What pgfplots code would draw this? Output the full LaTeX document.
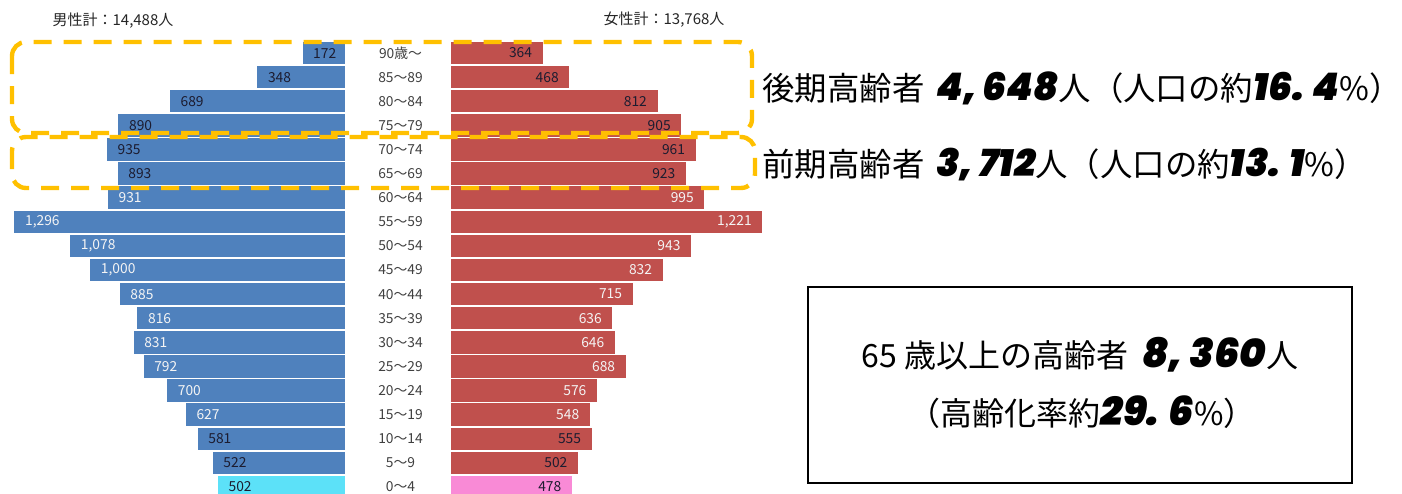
\documentclass[border=0pt]{standalone}
\usepackage{pgfplots}
\pgfplotsset{compat=1.18}
\usepackage{pgfplotstable}
\usepackage{fontspec}
\setmainfont{Noto Sans CJK JP}
\newfontfamily\numfont{Poppins}[BoldItalicFont={Poppins Black Italic}, Numbers=Monospaced]
\definecolor{mblue}{HTML}{4F81BD}
\definecolor{fred}{HTML}{C0504D}
\definecolor{mcyan}{HTML}{5CE1F8}
\definecolor{fpink}{HTML}{F98AD6}
\definecolor{dashor}{HTML}{FFC000}
\definecolor{lbldark}{HTML}{1C1C30}
\definecolor{lblwhite}{HTML}{F4F4F4}
\definecolor{agegray}{HTML}{404040}
\newcommand\bignum[1]{{\fontsize{19pt}{20pt}\numfont\bfseries\itshape #1}}
\newcommand\boxnum[1]{{\fontsize{20pt}{21pt}\numfont\bfseries\itshape #1}}

\pgfplotstableread{
idx male mw female fw
0 172 0 364 0
1 348 0 468 0
2 689 0 812 0
3 890 0 905 0
4 935 0 961 0
5 893 0 923 0
6 931 1 995 1
7 1296 1 1221 1
8 1078 1 943 1
9 1000 1 832 1
10 885 1 715 1
11 816 1 636 1
12 831 1 646 1
13 792 1 688 1
14 700 1 576 1
15 627 1 548 1
16 581 0 555 0
17 522 0 502 0
18 502 0 478 0
}\pyramid

\pgfplotsset{
  pyr/.style={
    scale only axis, width=173pt, height=229pt,
    xmin=0, xmax=1350, ymin=-0.5, ymax=18.5, y dir=reverse,
    enlargelimits=false,
    axis line style={draw=none}, tick style={draw=none},
    xtick=\empty,
    xbar, bar width=11.8pt,
    clip=false,
    /pgf/number format/.cd, fixed, precision=0, 1000 sep={,}, assume math mode=true,
    /pgfplots/.cd,
  },
  lbl/.style={
    nodes near coords={\ifdim\lw pt>0.5pt\color{lblwhite}\else\color{lbldark}\fi\pgfmathprintnumber{\pgfplotspointmeta}},
    every node near coord/.append style={font=\fontsize{6.9pt}{7.5pt}\selectfont, anchor=#1},
    point meta=x,
  },
}

\begin{document}
\begin{tikzpicture}
\useasboundingbox (0,0) rectangle (701pt,-246.5pt);
\clip (0,0) rectangle (701pt,-246.5pt);

% male
\begin{axis}[pyr, at={(173pt,-20.5pt)}, anchor=north east, x dir=reverse,
  ytick={0,...,18},
  yticklabels={90歳～,85～89,80～84,75～79,70～74,65～69,60～64,55～59,50～54,45～49,40～44,35～39,30～34,25～29,20～24,15～19,10～14,5～9,0～4},
  yticklabel pos=right,
  yticklabel style={anchor=center, xshift=23pt, text=agegray, font=\fontsize{6.9pt}{8pt}\selectfont},
  visualization depends on={\thisrow{mw} \as \lw},
]
\addplot[bar shift=0pt, fill=mblue, draw=white, line width=0.6pt, skip coords between index={18}{19}, lbl=west,
  every node near coord/.append style={xshift=2pt}]
  table[x=male, y=idx]{\pyramid};
\addplot[bar shift=0pt, fill=mcyan, draw=white, line width=0.6pt, skip coords between index={0}{18}, lbl=west,
  every node near coord/.append style={xshift=2pt}]
  table[x=male, y=idx]{\pyramid};
\end{axis}

% female
\begin{axis}[pyr, at={(225pt,-20.5pt)}, anchor=north west, ytick=\empty,
  visualization depends on={\thisrow{fw} \as \lw},
]
\addplot[bar shift=0pt, fill=fred, draw=white, line width=0.6pt, skip coords between index={18}{19}, lbl=east,
  every node near coord/.append style={xshift=-2pt}]
  table[x=female, y=idx]{\pyramid};
\addplot[bar shift=0pt, fill=fpink, draw=white, line width=0.6pt, skip coords between index={0}{18}, lbl=east,
  every node near coord/.append style={xshift=-2pt}]
  table[x=female, y=idx]{\pyramid};
\end{axis}

\begin{scope}[x=0.5pt,y=-0.5pt]
\node[font=\fontsize{7.5pt}{9pt}\selectfont, text=black!85] at (113,21) {男性計：14,488人};
\node[font=\fontsize{7.5pt}{9pt}\selectfont, text=black!85] at (664,20) {女性計：13,768人};
\draw[dashor, line width=2.2pt, dash pattern=on 9pt off 6pt, rounded corners=7pt] (12,42) rectangle (752,133);
\draw[dashor, line width=2.2pt, dash pattern=on 9pt off 6pt, rounded corners=7pt] (12,137) rectangle (755,188);
\draw[black, line width=1pt] (808,287) rectangle (1352,483);
\node[anchor=west, inner sep=0pt, font=\fontsize{16.2pt}{18pt}\selectfont] at (762,88)
  {後期高齢者\hspace{6pt}\bignum{4, 648}人（人口の約\bignum{16. 4}\%）};
\node[anchor=west, inner sep=0pt, font=\fontsize{16.2pt}{18pt}\selectfont] at (762,165)
  {前期高齢者\hspace{6pt}\bignum{3, 712}人（人口の約\bignum{13. 1}\%）};
\node[inner sep=0pt, font=\fontsize{16pt}{18pt}\selectfont] at (1080,355)
  {65 歳以上の高齢者\hspace{7pt}\boxnum{8, 360}人};
\node[inner sep=0pt, font=\fontsize{16pt}{18pt}\selectfont] at (1082,412)
  {（高齢化率約\boxnum{29. 6}\%）};
\end{scope}
\end{tikzpicture}
\end{document}
